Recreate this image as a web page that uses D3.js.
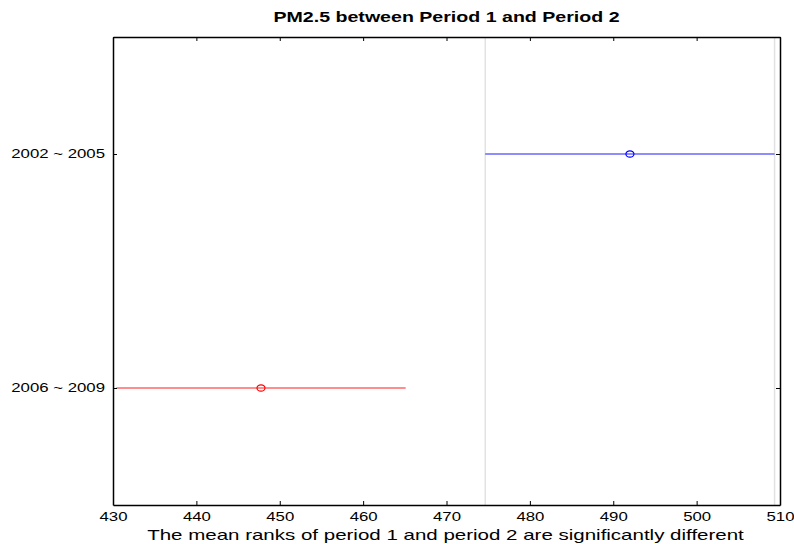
<!DOCTYPE html>
<html><head><meta charset="utf-8">
<script src="https://cdn.jsdelivr.net/npm/d3@7"></script>
<style>body{margin:0;background:#fff}svg{display:block}text{font-family:"Liberation Sans",Arial,sans-serif}</style>
</head><body>
<svg id="c" width="794" height="544"></svg>
<script>
const groups = ["2002 ~ 2005", "2006 ~ 2009"];
const means = [492.0, 447.75];
const lower = [474.65, 430.4];
const upper = [509.35, 465.1];
const colors = ["#0000ff", "#ff0000"];
const xTicks = [430, 440, 450, 460, 470, 480, 490, 500, 510];
const refLines = [474.65, 509.35];
const title = "PM2.5 between Period 1 and Period 2";
const xLabel = "The mean ranks of period 1 and period 2 are significantly different";

const svg = d3.select("#c");
const L = 113, R = 780, T = 37, B = 505;
const S = 1.4; // horizontal text stretch
const x = d3.scaleLinear().domain([430, 510]).range([L, R]);
const y = d3.scaleLinear().domain([0.5, 2.5]).range([T, B]);

svg.selectAll("line.ref").data(refLines).enter().append("line")
  .attr("x1", d => x(d)).attr("x2", d => x(d)).attr("y1", T).attr("y2", B)
  .attr("stroke", "#e2e2e2").attr("stroke-width", 1.5);

svg.selectAll("line.int").data(groups).enter().append("line")
  .attr("x1", (d, i) => x(lower[i])).attr("x2", (d, i) => x(upper[i]))
  .attr("y1", (d, i) => y(i + 1)).attr("y2", (d, i) => y(i + 1))
  .attr("stroke", (d, i) => colors[i]).attr("stroke-opacity", 0.6).attr("stroke-width", 1.7);
svg.selectAll("ellipse.m").data(groups).enter().append("ellipse")
  .attr("cx", (d, i) => x(means[i])).attr("cy", (d, i) => y(i + 1))
  .attr("rx", 4).attr("ry", 3.2).attr("fill", "none")
  .attr("stroke", (d, i) => colors[i]).attr("stroke-width", 1.2);

const tickLen = 4;
const xb = d3.axisBottom(x).tickValues(xTicks).tickSizeInner(-tickLen).tickSizeOuter(0).tickPadding(7);
const gx = svg.append("g").attr("transform", `translate(0,${B})`).call(xb);
const xt = d3.axisTop(x).tickValues(xTicks).tickSizeInner(-tickLen).tickSizeOuter(0).tickFormat("");
const gxt = svg.append("g").attr("transform", `translate(0,${T})`).call(xt);
const yl = d3.axisLeft(y).tickValues([1, 2]).tickFormat((d) => groups[d - 1]).tickSizeInner(-tickLen).tickSizeOuter(0).tickPadding(8);
const gy = svg.append("g").attr("transform", `translate(${L},0)`).call(yl);
const yr = d3.axisRight(y).tickValues([1, 2]).tickFormat("").tickSizeInner(-tickLen).tickSizeOuter(0);
const gyr = svg.append("g").attr("transform", `translate(${R},0)`).call(yr);
[gx, gxt, gy, gyr].forEach(g => {
  g.select(".domain").attr("stroke", "#000").attr("stroke-width", 1.5);
  g.selectAll(".tick line").attr("stroke", "#000");
  g.selectAll("text").attr("font-size", 12).attr("fill", "#000")
    .attr("font-family", "Liberation Sans, Arial, sans-serif")
    .each(function () {
      const t = d3.select(this);
      const xv = +(t.attr("x") || 0);
      t.attr("x", xv / S).attr("transform", `scale(${S},1)`);
    });
});

const cx = (L + R) / 2;
svg.append("text").attr("x", cx / S).attr("y", 22).attr("text-anchor", "middle")
  .attr("transform", `scale(${S},1)`)
  .attr("font-size", 14).attr("font-weight", "bold").text(title);
const S2 = 1.465;
svg.append("text").attr("x", (cx - 1) / S2).attr("y", 540).attr("text-anchor", "middle")
  .attr("transform", `scale(${S2},1)`)
  .attr("font-size", 14).text(xLabel);
</script>
</body></html>
